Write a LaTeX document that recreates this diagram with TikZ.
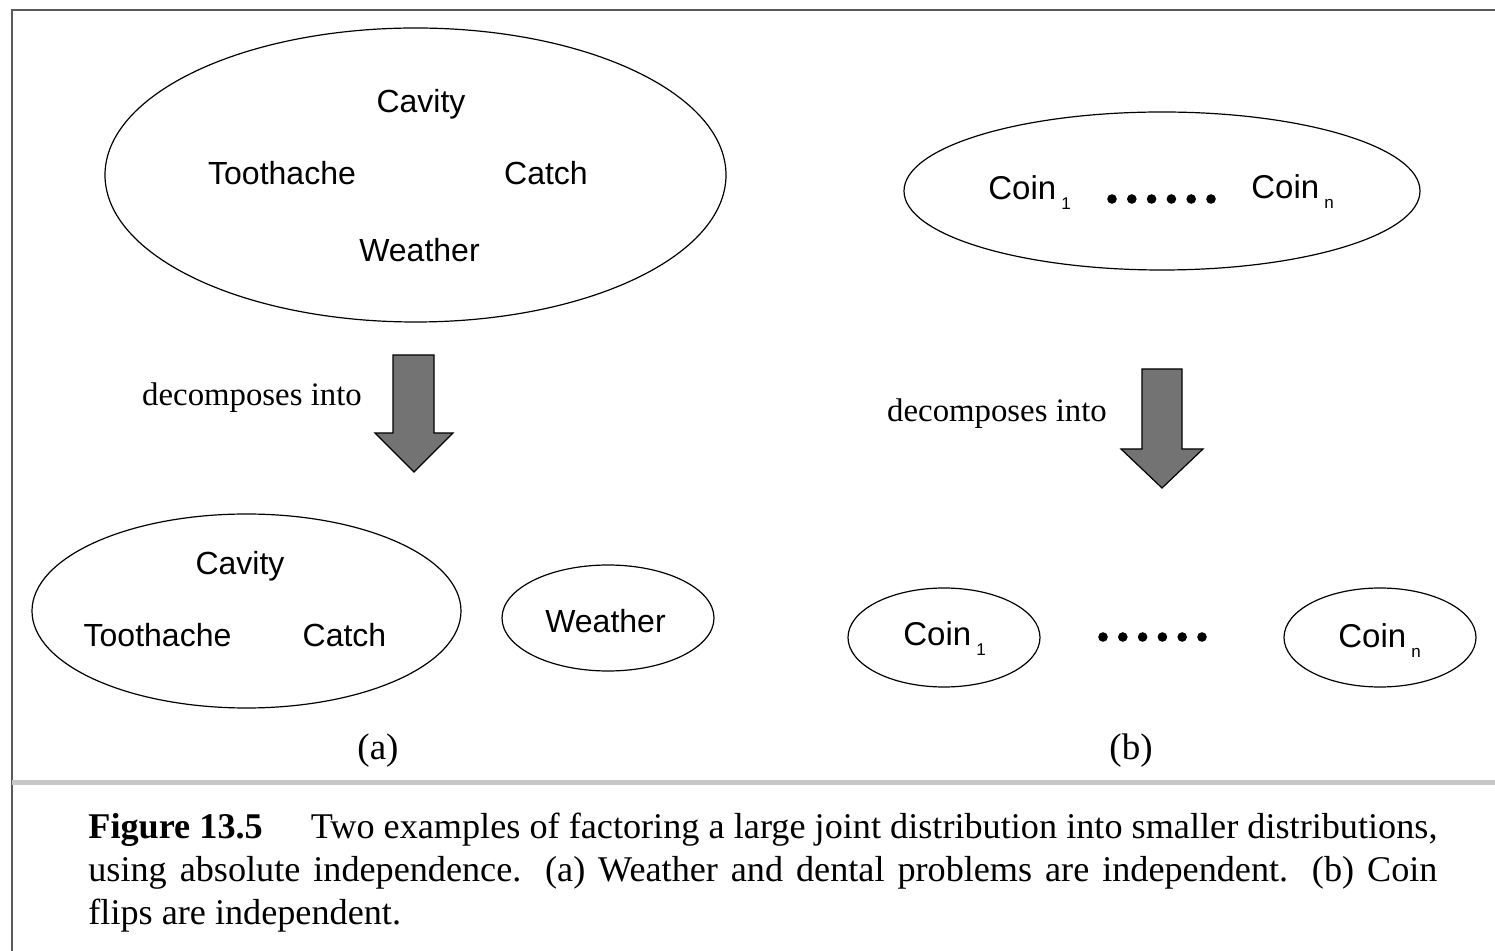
\documentclass[tikz,border=0pt]{standalone}
\usepackage{fontspec}
\setmainfont{Liberation Serif}
\newfontfamily\helv{Liberation Sans}
\usetikzlibrary{shapes.geometric}
\begin{document}
\begin{tikzpicture}[x=0.5pt,y=-0.5pt,
  oval/.style={draw, ellipse, line width=0.6pt, inner sep=0},
  lbl/.style={font=\helv\fontsize{16}{19}\selectfont, anchor=base, inner sep=0},
  coinlbl/.style={font=\helv\fontsize{16.5}{19}\selectfont, anchor=base west, inner sep=0},
  serif/.style={font=\fontsize{16.4}{19}\selectfont, inner sep=0},
  sublbl/.style={font=\fontsize{18.5}{22}\selectfont, inner sep=0},
  blockarrow/.style={draw=black, fill=black!55, line width=0.6pt, line join=miter},
  dotmark/.style={circle, fill=black, inner sep=0, minimum size=4.8pt},
  frameline/.style={draw=black!65, line width=1pt},
  sepline/.style={draw=black!22, line width=2.5pt}]
\newcommand{\subsc}[1]{\hspace{2.5pt}\raisebox{-5pt}{\fontsize{8.5}{8.5}\selectfont #1}}
\useasboundingbox (0,0) rectangle (1495,951);
% frame
\coordinate (fbl) at (12,951);
\coordinate (ftl) at (12,10);
\coordinate (ftr) at (1495,10);
\coordinate (sl) at (12,783);
\coordinate (sr) at (1495,783);
\draw[frameline] (fbl) -- (ftl) -- (ftr);
\draw[sepline] (sl) -- (sr);
% (a) top
\node[oval, minimum width=310.5pt, minimum height=147pt] (A) at (415.5,175) {};
\node[lbl] (acav) at (421,113) {Cavity};
\node[lbl] (atoo) at (282,185) {Toothache};
\node[lbl] (acat) at (546,185) {Catch};
\node[lbl] (awea) at (419.5,262) {Weather};
% arrow a
\draw[blockarrow] (393,355) -- (434,355) -- (434,433) -- (453,433) -- (414,472) -- (375,433) -- (393,433) -- cycle;
\node[serif] (deca) at (252,398) {decomposes into};
% (a) bottom
\node[oval, minimum width=214.5pt, minimum height=97pt] (A1) at (246.5,611) {};
\node[lbl] (bcav) at (240,575) {Cavity};
\node[lbl] (btoo) at (157.5,647) {Toothache};
\node[lbl] (bcat) at (344.5,647) {Catch};
\node[oval, minimum width=106pt, minimum height=53pt] (W) at (608,618) {};
\node[lbl] (bwea) at (605.5,633) {Weather};
\node[sublbl] (la) at (378,751) {(a)};
% (b) top
\node[oval, minimum width=258pt, minimum height=79pt] (B) at (1162,191) {};
\node[coinlbl] (c1t) at (988,200) {Coin\subsc{1}};
\node[coinlbl] (cnt) at (1251,199) {Coin\subsc{n}};
\foreach \i in {0,...,5} {
  \node[dotmark] (dt\i) at (1112+19.8*\i,199) {};
}
% arrow b
\draw[blockarrow] (1142,369) -- (1182,369) -- (1182,449) -- (1203,449) -- (1162,488) -- (1121,449) -- (1142,449) -- cycle;
\node[serif] (decb) at (997,414) {decomposes into};
% (b) bottom
\node[oval, minimum width=96pt, minimum height=49.5pt] (C1) at (944,637.5) {};
\node[oval, minimum width=96pt, minimum height=49.5pt] (Cn) at (1380,637.5) {};
\node[coinlbl] (c1b) at (903,646) {Coin\subsc{1}};
\node[coinlbl] (cnb) at (1338,648) {Coin\subsc{n}};
\foreach \i in {0,...,5} {
  \node[dotmark] (db\i) at (1103+19.8*\i,637) {};
}
\node[sublbl] (lb) at (1131,751) {(b)};
% caption
\node[anchor=north west, inner sep=0] (cap) at (88,813) {\parbox{674.5pt}{\fontsize{18.1}{21.5}\selectfont\textbf{Figure 13.5}\hspace{24pt}Two examples of factoring a large joint distribution into smaller distributions,\linebreak using absolute independence. (a) Weather and dental problems are independent. (b) Coin\linebreak flips are independent.}};
\end{tikzpicture}
\end{document}
